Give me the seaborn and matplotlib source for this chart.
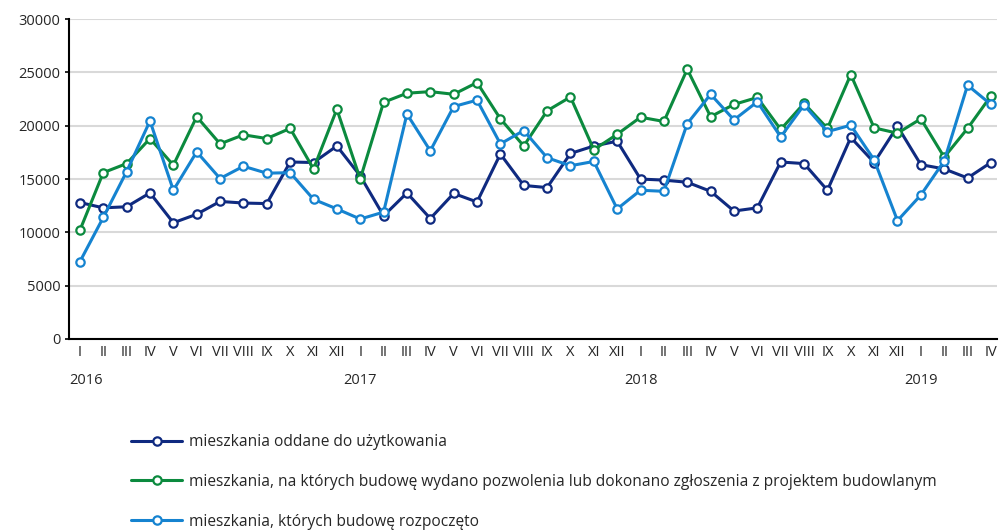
import numpy as np
import pandas as pd
import matplotlib
matplotlib.use("Agg")
import matplotlib.pyplot as plt
import matplotlib.transforms as mtransforms
import seaborn as sns

# miesiące I 2016 - IV 2019
months = ["I", "II", "III", "IV", "V", "VI", "VII", "VIII", "IX", "X", "XI", "XII"] * 3 + ["I", "II", "III", "IV"]
years = ["2016", "2017", "2018", "2019"]

oddane = [12800, 12300, 12400, 13700, 10900, 11700, 12900, 12750, 12700, 16600, 16550, 18100,
          15300, 11550, 13700, 11300, 13650, 12850, 17350, 14400, 14200, 17400, 18100, 18550,
          15000, 14900, 14700, 13850, 12000, 12300, 16600, 16450, 13950, 18900, 16550, 19950,
          16350, 15950, 15100, 16550]
pozwolenia = [10200, 15600, 16450, 18800, 16300, 20850, 18300, 19150, 18800, 19750, 15950, 21550,
              15000, 22200, 23050, 23200, 22950, 24050, 20650, 18100, 21400, 22700, 17750, 19200,
              20800, 20400, 25300, 20850, 22000, 22650, 19650, 22100, 19750, 24800, 19800, 19300,
              20650, 17050, 19750, 22800]
rozpoczete = [7250, 11400, 15700, 20450, 13950, 17550, 15050, 16200, 15550, 15600, 13100, 12200,
              11250, 11900, 21100, 17650, 21800, 22400, 18300, 19550, 17000, 16250, 16650, 12200,
              13950, 13850, 20200, 22950, 20550, 22250, 18950, 21950, 19450, 20050, 16800, 11100,
              13500, 16700, 23800, 22000]

labels = [
    "mieszkania oddane do użytkowania",
    "mieszkania, na których budowę wydano pozwolenia lub dokonano zgłoszenia z projektem budowlanym",
    "mieszkania, których budowę rozpoczęto",
]
colors = ["#0f2a80", "#0b8a3e", "#1583d0"]

sns.set_style("white")
plt.rcParams['font.family'] = ['Open Sans', 'DejaVu Sans']

fig = plt.figure(figsize=(9.99, 5.31), dpi=100)
ax = fig.add_axes([0.069, 0.3616, 0.929, 0.6024])

idx = np.arange(len(months))
for vals, lab, c in zip([oddane, pozwolenia, rozpoczete], labels, colors):
    sns.lineplot(x=idx, y=vals, ax=ax, color=c, lw=2.2, marker="o", markersize=6,
                 markerfacecolor="white", markeredgecolor=c, markeredgewidth=1.6,
                 label=lab, legend=False)

ax.set_xlim(-0.47, 39.26)
ax.set_ylim(0, 30000)
ax.set_yticks(range(0, 30001, 5000))
ax.yaxis.grid(True, color="#d9d9d9", lw=1.5)
ax.set_axisbelow(True)
ax.set_xticks(idx)
ax.set_xticklabels(months, fontsize=10.5)
ax.tick_params(axis="x", length=0, pad=4)
ax.tick_params(axis="y", length=3, width=1.2, color="black", labelsize=10.5, pad=3, left=True)

for side in ["top", "right"]:
    ax.spines[side].set_visible(False)
for side in ["left", "bottom"]:
    ax.spines[side].set_color("black")
    ax.spines[side].set_linewidth(1.5)

trans = mtransforms.blended_transform_factory(ax.transData, fig.transFigure)
for i, yr in enumerate(years):
    xpos = i * 12 + (0.25 if i == 0 else 0)
    ax.text(xpos, (531 - 380) / 531, yr, transform=trans, ha="center", va="center", fontsize=10.5)

handles, labs = ax.get_legend_handles_labels()
fig.legend(handles, labs, loc="upper left", bbox_to_anchor=(0.125, (531 - 428) / 531),
           frameon=False, fontsize=11.2, handlelength=3.3, handletextpad=0.4,
           labelspacing=1.52, numpoints=1, borderaxespad=0)

fig.savefig("out.png", dpi=100)
